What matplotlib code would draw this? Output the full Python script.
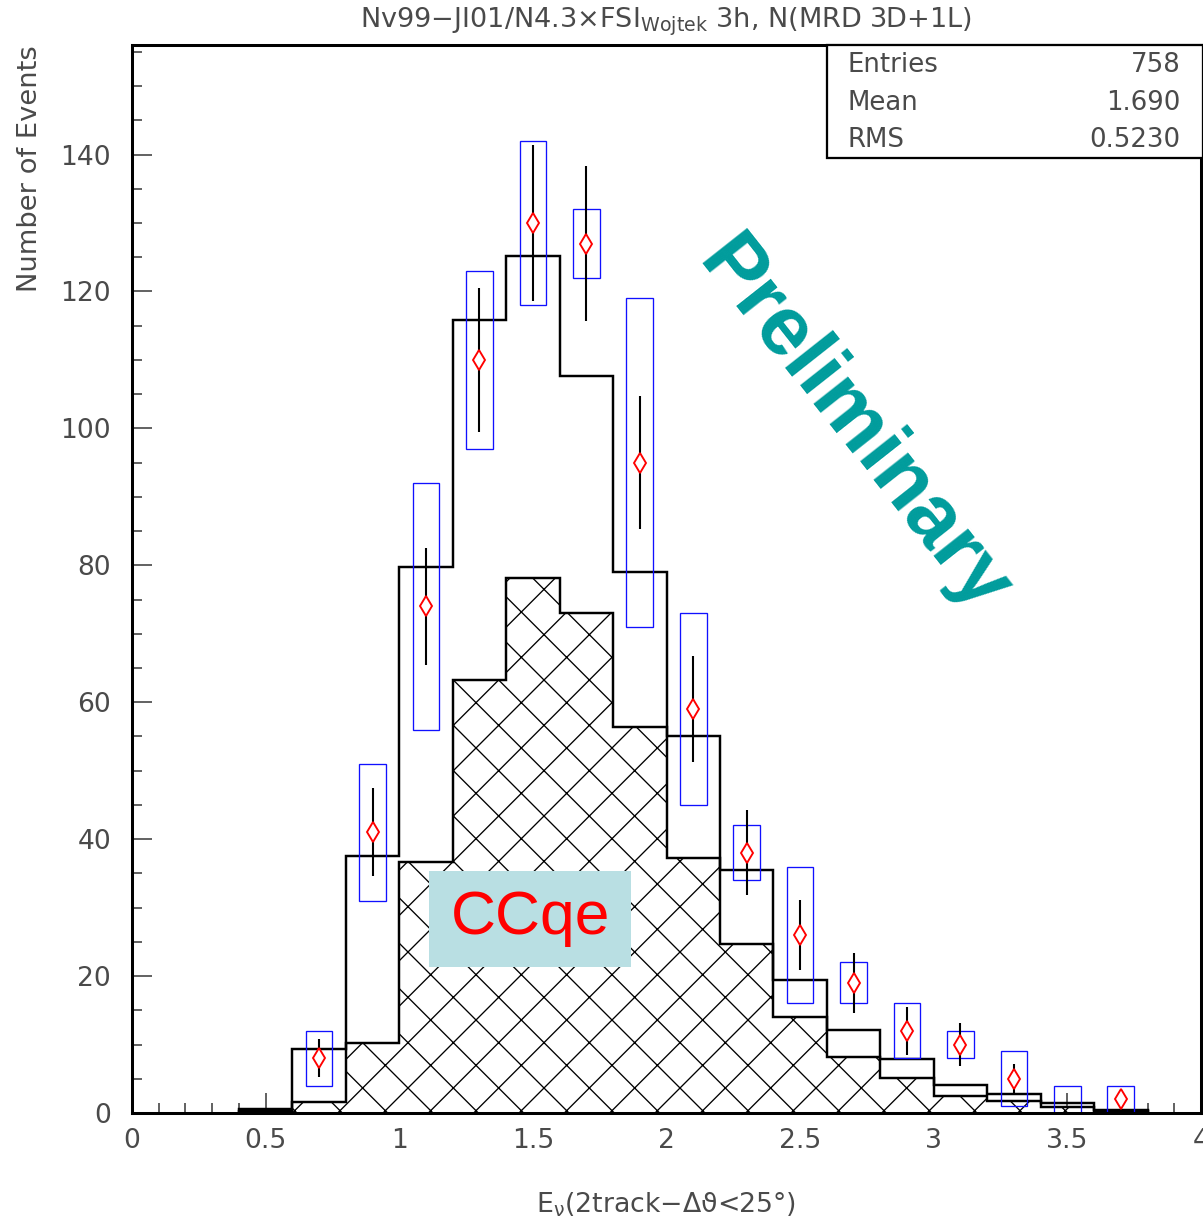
import numpy as np
import matplotlib
matplotlib.use("Agg")
import matplotlib.pyplot as plt
from matplotlib.patches import Rectangle
from matplotlib.ticker import MultipleLocator

DPI = 136
FONT = ["DejaVu Sans"]
TXT = "#4a4a4a"

# MC histograms, bins of 0.2 from 0.4 to 3.8
edges = np.round(np.arange(0.4, 3.81, 0.2), 2)
mc_total = [0.55, 9.3, 37.6, 79.8, 115.9, 125.2, 107.7, 79.0, 55.1,
            35.5, 19.4, 12.1, 7.9, 4.1, 2.8, 1.4, 0.5]
mc_ccqe = [0.3, 1.6, 10.2, 36.7, 63.3, 78.1, 73.0, 56.4, 37.2,
           24.7, 14.0, 8.2, 5.1, 2.5, 1.8, 0.9, 0.3]

# data points
data_x = [0.7, 0.9, 1.1, 1.3, 1.5, 1.7, 1.9, 2.1, 2.3, 2.5, 2.7, 2.9, 3.1, 3.3, 3.5, 3.7]
data_y = [8, 41, 74, 110, 130, 127, 95, 59, 38, 26, 19, 12, 10, 5, 0, 2]
data_err = [2.8, 6.4, 8.6, 10.5, 11.4, 11.3, 9.7, 7.7, 6.2, 5.1, 4.4, 3.5, 3.2, 2.2, 0, 1.4]
sys_lo = [4, 31, 56, 97, 118, 122, 71, 45, 34, 16, 16, 8, 8, 1, 0, 0]
sys_hi = [12, 51, 92, 123, 142, 132, 119, 73, 42, 36, 22, 16, 12, 9, 4, 4]

stat_names = ["Entries", "Mean", "RMS"]
stat_values = ["758", "1.690", "0.5230"]

plt.rcParams["font.family"] = FONT
plt.rcParams["mathtext.default"] = "regular"
plt.rcParams["hatch.linewidth"] = 0.7

fig = plt.figure(figsize=(1203 / DPI, 1220 / DPI), dpi=DPI)
ax = fig.add_axes([132 / 1203, 1 - 1113 / 1220, 1069 / 1203, 1068 / 1220])

ax.stairs(mc_ccqe, edges, fill=True, facecolor="white", edgecolor="black",
          hatch="x", linewidth=0, zorder=2)
ax.stairs(mc_ccqe, edges, color="black", linewidth=1.3, zorder=3)
ax.stairs(mc_total, edges, color="black", linewidth=1.3, zorder=3)

x = np.array(data_x)
y = np.array(data_y, dtype=float)
err = np.array(data_err)
lo = np.array(sys_lo)
hi = np.array(sys_hi)
ax.bar(x, hi - lo, bottom=lo, width=0.1, fill=False, edgecolor="#1010ff",
       linewidth=0.7, zorder=4)
nz = y > 0
ax.vlines(x[nz], (y - err)[nz], (y + err)[nz], color="black", linewidth=1.1, zorder=5)
ax.plot(x[nz], y[nz], linestyle="none", marker="d", markersize=7.5,
        markerfacecolor="white", markeredgecolor="red", markeredgewidth=1.0, zorder=6)

ax.set_xlim(0, 4)
ax.set_ylim(0, 156)
ax.xaxis.set_major_locator(MultipleLocator(0.5))
ax.xaxis.set_minor_locator(MultipleLocator(0.1))
ax.yaxis.set_major_locator(MultipleLocator(20))
ax.yaxis.set_minor_locator(MultipleLocator(5))
ax.xaxis.set_major_formatter(lambda v, p: f"{v:g}")
ax.tick_params(which="both", direction="in", top=False, right=False,
               colors="#333333", labelcolor=TXT, labelsize=14, width=0.8)
ax.tick_params(which="major", length=10.5)
ax.tick_params(which="minor", length=5.3)
ax.tick_params(axis="y", which="major", pad=11)
ax.tick_params(axis="x", which="major", pad=8)
for s in ax.spines.values():
    s.set_linewidth(1.6)
    s.set_zorder(10)

# CCqe label
ax.add_patch(Rectangle((1.111, 21.3), 0.756, 14.1, facecolor="#b9dfe3",
                       edgecolor="none", zorder=7))
ax.text(1.49, 28.4, "CCqe", color="red", fontsize=33, family="Liberation Sans",
        ha="center", va="center", zorder=8)

# Preliminary watermark
ax.text(2.70, 100.3, "Preliminary", color="#009c9c", fontsize=44,
        family="Liberation Sans", weight="bold", rotation=-51.7,
        rotation_mode="anchor", ha="center", va="center", zorder=8)

# stats box
ax.add_patch(Rectangle((0.650, 0.894), 0.352, 0.106, transform=ax.transAxes,
                       facecolor="white", edgecolor="black", linewidth=1.2,
                       zorder=11, clip_on=False))
for i, (n, v) in enumerate(zip(stat_names, stat_values)):
    yy = 0.981 - i * 0.035
    ax.text(0.669, yy, n, transform=ax.transAxes, fontsize=13.8, color=TXT,
            ha="left", va="center", zorder=12)
    ax.text(0.981, yy, v, transform=ax.transAxes, fontsize=13.8, color=TXT,
            ha="right", va="center", zorder=12)

fig.text(666 / 1203, 1 - 22 / 1220,
         "Nv99\u2212JI01/N4.3\u00d7FSI$_{Wojtek}$ 3h, N(MRD 3D+1L)",
         fontsize=14.4, color=TXT, ha="center", va="center")
fig.text(30 / 1203, 1 - 45 / 1220, "Number of Events", rotation=90,
         fontsize=14.5, color=TXT, ha="center", va="top")
fig.text(666 / 1203, 1 - 1205 / 1220, "E$_{\u03bd}$(2track\u2212\u0394\u03d1<25\u00b0)",
         fontsize=14.2, color=TXT, ha="center", va="center")

fig.savefig("out.png", dpi=DPI, facecolor="white")
